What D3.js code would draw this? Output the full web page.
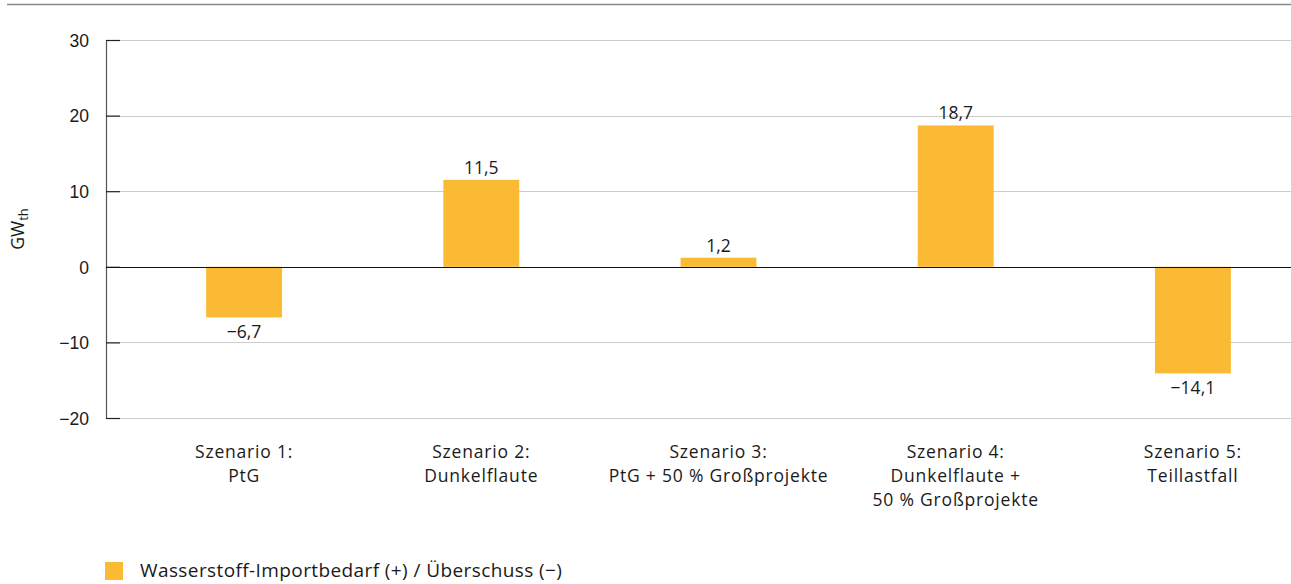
<!DOCTYPE html>
<html>
<head>
<meta charset="utf-8">
<script src="https://cdn.jsdelivr.net/npm/d3@7"></script>
<style>
  body { margin: 0; background: #fff; }
  svg { font-family: "Open Sans", Lato, sans-serif; }
</style>
</head>
<body>
<script>
// chart data
var scenarios = ['Szenario 1:|PtG', 'Szenario 2:|Dunkelflaute', 'Szenario 3:|PtG + 50 % Großprojekte',
    'Szenario 4:|Dunkelflaute +|50 % Großprojekte', 'Szenario 5:|Teillastfall'];
var values = [-6.7, 11.5, 1.2, 18.7, -14.1];
var yTicks = [-20, -10, 0, 10, 20, 30];
var legendLabel = 'Wasserstoff-Importbedarf (+) / Überschuss (\u2212)';

var w = 1291;
var h = 584;
var barColor = '#fbba33';
var fs = '17.5px';
var fmt = function (v) {
    return (v < 0 ? '\u2212' : '') + Math.abs(v).toFixed(1).replace('.', ',');
};

var svg = d3.select('body').append('svg')
    .attr('width', w)
    .attr('height', h);

// top rule
svg.append('line')
    .attr('x1', 7).attr('x2', w)
    .attr('y1', 4.5).attr('y2', 4.5)
    .style('stroke', '#8a8a8a')
    .style('stroke-width', 1.5);

var x = d3.scaleBand()
    .domain(scenarios)
    .range([125.5, 1311.5])
    .paddingInner(0.68)
    .paddingOuter(0.34);

var y = d3.scaleLinear()
    .domain([-20, 30])
    .range([418, 40]);

var left = 106;

// gridlines
svg.append('g')
    .selectAll('line')
    .data(yTicks.filter(function (d) { return d !== 0; }))
    .enter().append('line')
    .attr('x1', left).attr('x2', w)
    .attr('y1', function (d) { return Math.round(y(d)) + 0.5; })
    .attr('y2', function (d) { return Math.round(y(d)) + 0.5; })
    .style('stroke', '#cccccc')
    .style('stroke-width', 1.2);

// y axis
var yAxis = d3.axisLeft(y)
    .tickValues(yTicks)
    .tickSize(-14)
    .tickPadding(17)
    .tickFormat(function (d) { return d < 0 ? '\u2212' + Math.abs(d) : d; });

var ga = svg.append('g')
    .attr('transform', 'translate(' + left + ',0)')
    .call(yAxis);
ga.select('.domain').style('stroke', '#555').style('stroke-width', 1.2);
ga.selectAll('.tick line').style('stroke', '#222').style('stroke-width', 1.2);
ga.selectAll('.tick text')
    .style('font-size', fs)
    .style('fill', '#1a1a1a')
    .attr('dy', '0.36em');

// bars
svg.append('g')
    .selectAll('rect')
    .data(values)
    .enter().append('rect')
    .attr('x', function (d, i) { return x(scenarios[i]); })
    .attr('width', x.bandwidth())
    .attr('y', function (d) { return y(Math.max(0, d)); })
    .attr('height', function (d) { return Math.abs(y(d) - y(0)); })
    .style('fill', barColor);

// zero line
svg.append('line')
    .attr('x1', left).attr('x2', w)
    .attr('y1', Math.round(y(0)) + 0.5).attr('y2', Math.round(y(0)) + 0.5)
    .style('stroke', '#111')
    .style('stroke-width', 1.2);

// value labels
svg.append('g')
    .selectAll('text')
    .data(values)
    .enter().append('text')
    .attr('x', function (d, i) { return x(scenarios[i]) + x.bandwidth() / 2; })
    .attr('y', function (d) { return d >= 0 ? y(d) - 6 : y(d) + 21; })
    .attr('text-anchor', 'middle')
    .style('font-size', fs)
    .style('fill', '#1a1a1a')
    .text(fmt);

// category labels
var cats = svg.append('g')
    .selectAll('text')
    .data(scenarios)
    .enter().append('text')
    .attr('text-anchor', 'middle')
    .attr('x', function (d) { return x(d) + x.bandwidth() / 2; })
    .attr('y', 458)
    .style('font-size', fs)
    .style('letter-spacing', '0.8px')
    .style('fill', '#1a1a1a');
cats.each(function (d) {
    var t = d3.select(this);
    d.split('|').forEach(function (line, i) {
        t.append('tspan')
            .attr('x', x(d) + x.bandwidth() / 2)
            .attr('dy', i === 0 ? 0 : 24)
            .text(line);
    });
});

// y axis title
var yt = svg.append('text')
    .attr('transform', 'translate(24,' + (y(5)) + ') rotate(-90)')
    .attr('text-anchor', 'middle')
    .style('font-size', fs)
    .style('fill', '#1a1a1a');
yt.append('tspan').text('GW');
yt.append('tspan').attr('dy', 4).style('font-size', '13px').text('th');

// legend
var lg = svg.append('g').attr('transform', 'translate(105,562)');
lg.append('rect')
    .attr('width', 18).attr('height', 18)
    .style('fill', barColor);
lg.append('text')
    .attr('x', 35).attr('y', 15)
    .style('font-size', '19px')
    .style('letter-spacing', '0.4px')
    .style('fill', '#1a1a1a')
    .text(legendLabel);
</script>
</body>
</html>
